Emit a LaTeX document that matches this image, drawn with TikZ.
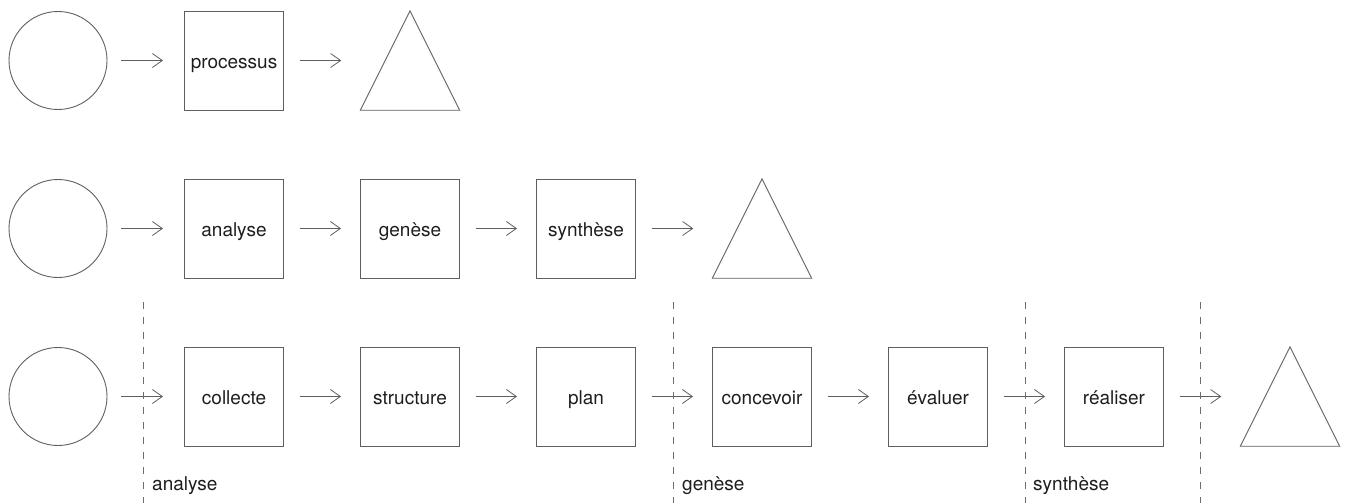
\documentclass[tikz,border=0pt]{standalone}
\usepackage{fontspec}
\setmainfont{TeX Gyre Heros}
\usetikzlibrary{arrows.meta}
\definecolor{ink}{RGB}{30,30,30}
\definecolor{stroke}{RGB}{95,95,95}
\definecolor{dashgray}{RGB}{110,110,110}
\begin{document}
\begin{tikzpicture}[x=1pt,y=-1pt,
  font=\fontsize{19}{22}\selectfont, text=ink,
  source/.style={circle, draw=stroke, line width=0.9pt, minimum size=98pt, inner sep=0pt},
  stepbox/.style={rectangle, draw=stroke, line width=0.9pt, minimum size=99pt, inner sep=0pt,
    text height=19pt, text depth=3pt},
  slot/.style={rectangle, minimum size=99pt, inner sep=0pt},
  tri/.style={draw=stroke, line width=0.9pt, line join=miter},
  flow/.style={draw=stroke, line width=0.8pt, -{Straight Barb[length=10pt,width=14pt]}, shorten <=16pt, shorten >=19pt},
  fromsrc/.style={flow, shorten <=14pt, shorten >=21pt},
  phase/.style={draw=dashgray, line width=0.9pt, dash pattern=on 7pt off 8pt},
  phaselabel/.style={anchor=base west, inner sep=0pt}]
\useasboundingbox (0,0) rectangle (1348,503);

% row 1: generic process
\node[source]  (a0) at (58,60.5) {};
\node[stepbox] (a1) at (234,60.5) {processus};
\node[slot]    (a2) at (410,60.5) {};
\draw[tri] (a2.south west) -- (a2.north) -- (a2.south east) -- cycle;
\draw[fromsrc] (a0) -- (a1);
\draw[flow] (a1) -- (a2);

% row 2: three phases
\node[source]  (b0) at (58,228.5) {};
\node[stepbox] (b1) at (234,228.5) {analyse};
\node[stepbox] (b2) at (410,228.5) {genèse};
\node[stepbox] (b3) at (586,228.5) {synthèse};
\node[slot]    (b4) at (762,228.5) {};
\draw[tri] (b4.south west) -- (b4.north) -- (b4.south east) -- cycle;
\draw[fromsrc] (b0) -- (b1);
\draw[flow] (b1) -- (b2);
\draw[flow] (b2) -- (b3);
\draw[flow] (b3) -- (b4);

% row 3: detailed steps
\node[source]  (c0) at (58,396.5) {};
\node[stepbox] (c1) at (234,396.5) {collecte};
\node[stepbox] (c2) at (410,396.5) {structure};
\node[stepbox] (c3) at (586,396.5) {plan};
\node[stepbox] (c4) at (762,396.5) {concevoir};
\node[stepbox] (c5) at (938,396.5) {évaluer};
\node[stepbox] (c6) at (1114,396.5) {réaliser};
\node[slot]    (c7) at (1290,396.5) {};
\draw[tri] (c7.south west) -- (c7.north) -- (c7.south east) -- cycle;
\draw[fromsrc] (c0) -- (c1);
\draw[flow] (c1) -- (c2);
\draw[flow] (c2) -- (c3);
\draw[flow] (c3) -- (c4);
\draw[flow] (c4) -- (c5);
\draw[flow] (c5) -- (c6);
\draw[flow] (c6) -- (c7);

% phase boundaries
\draw[phase] (143,302) -- (143,503);
\draw[phase] (673,302) -- (673,503);
\draw[phase] (1025,302) -- (1025,503);
\draw[phase] (1200,302) -- (1200,503);
\node[phaselabel] (l1) at (152,490) {analyse};
\node[phaselabel] (l2) at (682,490) {genèse};
\node[phaselabel] (l3) at (1033,490) {synthèse};
\end{tikzpicture}
\end{document}
